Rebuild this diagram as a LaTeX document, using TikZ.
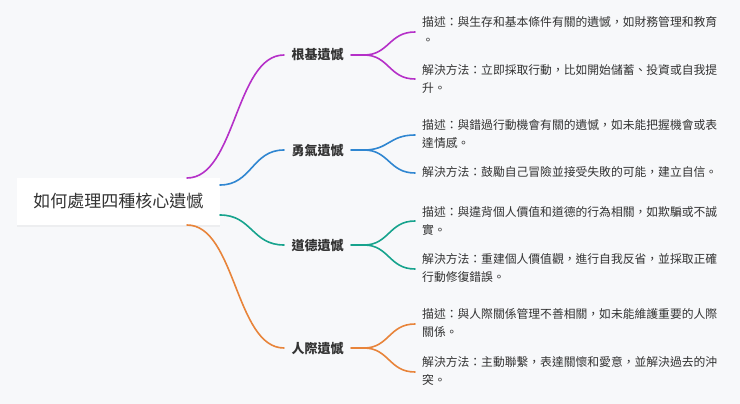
\documentclass[tikz,border=0pt]{standalone}
\usepackage{fontspec}
\setmainfont{Noto Sans CJK TC}
\usetikzlibrary{shadows}
\definecolor{bg}{HTML}{F7F8FA}
\definecolor{cA}{HTML}{B530C8}
\definecolor{cB}{HTML}{2F86D1}
\definecolor{cC}{HTML}{17A38D}
\definecolor{cD}{HTML}{E8843A}
\definecolor{tx}{HTML}{333333}
\begin{document}
\begin{tikzpicture}[x=1pt,y=-1pt,
  br/.style={line width=1.6pt,line cap=round},
  lab/.style={font=\fontsize{13}{15}\selectfont\bfseries,text=tx,inner sep=0pt},
  leaf/.style={font=\fontsize{11.8}{18}\selectfont,text=tx,anchor=north west,align=left,inner sep=0pt}]
\fill[bg] (0,0) rectangle (740,404);
\useasboundingbox (0,0) rectangle (740,404);
\node[fill=white,minimum width=203pt,minimum height=47pt,drop shadow={opacity=0.08,shadow xshift=0pt,shadow yshift=-2pt},font=\fontsize{17}{20}\selectfont,text=tx] (root) at (118.5,201) {如何處理四種核心遺憾};
\coordinate (rA) at (187,178); \coordinate (rB) at (220,185);
\coordinate (rC) at (220,215); \coordinate (rD) at (187,225);
\foreach \n/\y/\c/\t/\rx/\ry/\ya/\yb in {A/55/cA/根基遺憾/187/178/32/79, B/150/cB/勇氣遺憾/220/185/135/173, C/245/cC/道德遺憾/220/215/221/269, D/348/cD/人際遺憾/187/225/324/372}{
  \node[lab] (l\n) at (317.5,\y) {\t};
  \coordinate (s\n) at (284,\y); \coordinate (e\n) at (351,\y);
  \coordinate (f\n) at (364,\y);
  \coordinate (a\n) at (415,\ya); \coordinate (b\n) at (415,\yb);
  \pgfmathsetmacro\mx{(\rx+284)/2}
  \draw[br,\c] (r\n) .. controls (\mx,\ry) and (\mx,\y) .. (s\n);
  \draw[br,\c] (e\n) -- (f\n) .. controls (389,\y) and (389,\ya) .. (a\n);
  \draw[br,\c] (f\n) .. controls (389,\y) and (389,\yb) .. (b\n);
}
\node[leaf] (tA1) at (422,16) {描述：與生存和基本條件有關的遺憾，如財務管理和教育\\。};
\node[leaf] (tA2) at (422,64) {解決方法：立即採取行動，比如開始儲蓄、投資或自我提\\升。};
\node[leaf] (tB1) at (422,119) {描述：與錯過行動機會有關的遺憾，如未能把握機會或表\\達情感。};
\node[leaf] (tB2) at (422,166) {解決方法：鼓勵自己冒險並接受失敗的可能，建立自信。};
\node[leaf] (tC1) at (422,206) {描述：與違背個人價值和道德的行為相關，如欺騙或不誠\\實。};
\node[leaf] (tC2) at (422,253) {解決方法：重建個人價值觀，進行自我反省，並採取正確\\行動修復錯誤。};
\node[leaf] (tD1) at (422,308) {描述：與人際關係管理不善相關，如未能維護重要的人際\\關係。};
\node[leaf] (tD2) at (422,356) {解決方法：主動聯繫，表達關懷和愛意，並解決過去的沖\\突。};
\end{tikzpicture}
\end{document}
